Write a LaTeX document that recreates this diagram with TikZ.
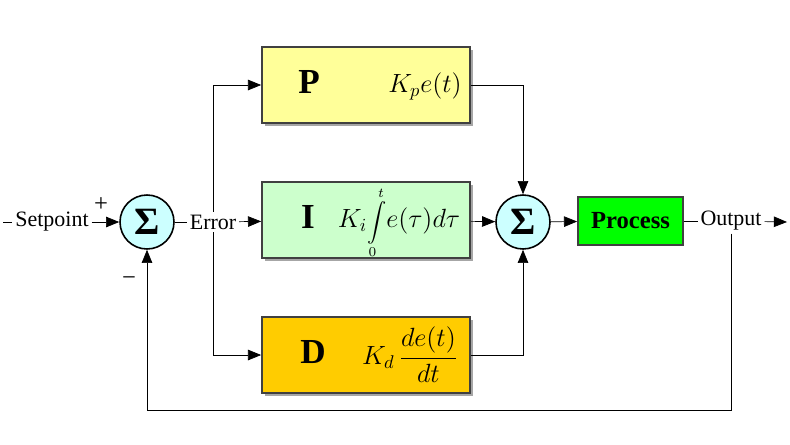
\RequirePackage{fix-cm}
\documentclass[tikz,border=0pt]{standalone}
\usepackage{fontspec}
\setmainfont{Liberation Serif}
\usepackage{amsmath}
\usetikzlibrary{positioning,arrows.meta,shadows,backgrounds}
\tikzset{
	>={Triangle[length=7.5pt,width=6pt]},
	line width=0.8pt,
	sumnode/.style={circle, draw=black, line width=0.9pt, fill=sumcyan, minimum size=1.08cm, inner sep=0pt, font=\fontsize{22}{24}\selectfont\bfseries},
	ctrlbox/.style={rectangle, draw=black!75, line width=1pt, minimum width=4.16cm, minimum height=1.52cm,
		drop shadow={shadow xshift=1.5pt, shadow yshift=-1.5pt, fill=gray!70, opacity=1}},
	sig/.style={font=\fontsize{12.5}{14}\selectfont, fill=white, inner sep=1.5pt},
	boxletter/.style={font=\fontsize{20}{24}\selectfont\bfseries},
	boxformula/.style={font=\fontsize{15}{18}\selectfont},
}
\definecolor{pyellow}{HTML}{FFFF99}
\definecolor{igreen}{HTML}{CCFFCC}
\definecolor{dgold}{HTML}{FFCC00}
\definecolor{sumcyan}{HTML}{CCFFFF}
\definecolor{procgreen}{HTML}{00FF00}
\newcommand{\intzt}{\text{\fontsize{11}{13}\selectfont$\displaystyle\int\limits_0^t$}}

\begin{document}
\begin{tikzpicture}[x=0.02cm, y=-0.02cm]
	\useasboundingbox (0,0) rectangle (790,444);

	% summing junctions
	\node[sumnode] (sum1) at (147,222) {Σ};
	\node[sumnode] (sum2) at (523,222) {Σ};

	% P, I, D terms
	\node[ctrlbox, fill=pyellow] (P) at (366,85) {};
	\node[ctrlbox, fill=igreen] (I) at (366,220) {};
	\node[ctrlbox, fill=dgold] (D) at (366,355) {};
	\node[boxletter] (Plet) at (309,82) {P};
	\node[boxletter] (Ilet) at (308,217) {I};
	\node[boxletter] (Dlet) at (313,352) {D};
	\node[boxformula] (Pform) at (425,86) {$K_p e(t)$};
	\node[boxformula] (Iform) at (399,223) {$K_i\intzt e(\tau)d\tau$};
	\node[boxformula] (Dform) at (410,355) {$K_d\,\dfrac{de(t)}{dt}$};

	% plant
	\node[rectangle, draw=black!75, line width=1pt, fill=procgreen, minimum width=2.1cm, minimum height=0.96cm,
		font=\fontsize{14}{16}\selectfont\bfseries] (proc) at (630.5,221) {Process};

	% signals
	\coordinate (in) at (3,222);
	\node[sig] (setp) at (52,222) {Setpoint};
	\node[sig] (err) at (213,222) {Error};
	\node[sig] (out) at (731,221) {Output};
	\coordinate (end) at (787,222);
	\coordinate (tap) at (213,222);
	\coordinate (fbcorner) at (731,410);
	\node[sig, fill=none, font=\fontsize{14}{16}\selectfont] (plus) at (101,205) {+};
	\node[sig, fill=none, font=\fontsize{14}{16}\selectfont] (minus) at (129,281) {−};

	\begin{scope}[on background layer]
		\draw[->] (tap) |- (P.west);
		\draw[->] (tap) |- (D.west);
	\end{scope}

	\draw (in) -- (setp);
	\draw[->] (setp) -- (sum1);
	\draw (sum1) -- (err);
	\draw[->] (err) -- (I);
	\draw[->] (P.east) -| (sum2.north);
	\draw[->] (I) -- (sum2);
	\draw[->] (D.east) -| (sum2.south);
	\draw[->] (sum2) -- (proc);
	\draw (proc) -- (out);
	\draw[->] (out) -- (end);
	\draw[->] (out.south) -- (fbcorner) -| (sum1.south);
\end{tikzpicture}
\end{document}
